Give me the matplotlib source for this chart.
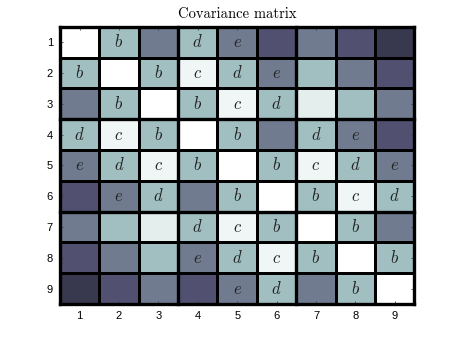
import numpy as np
import matplotlib
matplotlib.use('Agg')
import matplotlib.pyplot as plt

plt.rcParams['mathtext.fontset'] = 'cm'

# cell shades on the bone colormap (0 = black, 1 = white)
row1 = [1.00, 0.72, 0.50, 0.72, 0.50, 0.36, 0.50, 0.36, 0.25]
row2 = [0.72, 1.00, 0.72, 0.955, 0.72, 0.50, 0.72, 0.50, 0.36]
row3 = [0.50, 0.72, 1.00, 0.72, 0.955, 0.72, 0.92, 0.72, 0.50]
row4 = [0.72, 0.955, 0.72, 1.00, 0.72, 0.50, 0.72, 0.50, 0.36]
row5 = [0.50, 0.72, 0.955, 0.72, 1.00, 0.72, 0.955, 0.72, 0.50]
row6 = [0.36, 0.50, 0.72, 0.50, 0.72, 1.00, 0.72, 0.955, 0.72]
row7 = [0.50, 0.72, 0.92, 0.72, 0.955, 0.72, 1.00, 0.72, 0.50]
row8 = [0.36, 0.50, 0.72, 0.50, 0.72, 0.955, 0.72, 1.00, 0.72]
row9 = [0.25, 0.36, 0.50, 0.36, 0.50, 0.72, 0.50, 0.72, 1.00]

# letters written in the cells
labels = [
    ['', 'b', '', 'd', 'e', '', '', '', ''],
    ['b', '', 'b', 'c', 'd', 'e', '', '', ''],
    ['', 'b', '', 'b', 'c', 'd', '', '', ''],
    ['d', 'c', 'b', '', 'b', '', 'd', 'e', ''],
    ['e', 'd', 'c', 'b', '', 'b', 'c', 'd', 'e'],
    ['', 'e', 'd', '', 'b', '', 'b', 'c', 'd'],
    ['', '', '', 'd', 'c', 'b', '', 'b', ''],
    ['', '', '', 'e', 'd', 'c', 'b', '', 'b'],
    ['', '', '', '', 'e', 'd', '', 'b', ''],
]
tick_labels = ['1', '2', '3', '4', '5', '6', '7', '8', '9']

cov = np.array([row1, row2, row3, row4, row5, row6, row7, row8, row9])
n = len(tick_labels)

fig = plt.figure(figsize=(4.57, 3.43), dpi=100)
ax = fig.add_axes([0.131, 0.114, 0.776, 0.808])

ax.pcolormesh(np.arange(n + 1), np.arange(n + 1), cov, cmap='bone',
              vmin=0, vmax=1, edgecolors='k', linewidth=1.0)

for i in range(n):
    for j in range(n):
        if labels[i][j]:
            ax.text(j + 0.5, i + 0.5, '$%s$' % labels[i][j], ha='center',
                    va='center', fontsize=12, color='#222222')

# heavy lines between the 3x3 blocks
for k in [0, 3, 6, 9]:
    ax.axhline(k, color='k', lw=2.4, clip_on=False)
    ax.axvline(k, color='k', lw=2.4, clip_on=False)

ax.set_xlim(0, n)
ax.set_ylim(n, 0)
ax.set_xticks(np.arange(n) + 0.5)
ax.set_yticks(np.arange(n) + 0.5)
ax.set_xticklabels(tick_labels, family='Liberation Sans', fontsize=8)
ax.set_yticklabels(tick_labels, family='Liberation Sans', fontsize=8)
ax.tick_params(direction='in', length=2.5, width=0.6, top=True, right=True,
               color='#444444', pad=5)

ax.set_title('Covariance matrix', family='cmr10', fontsize=10.5, pad=6)

fig.savefig('out.png', dpi=100)
